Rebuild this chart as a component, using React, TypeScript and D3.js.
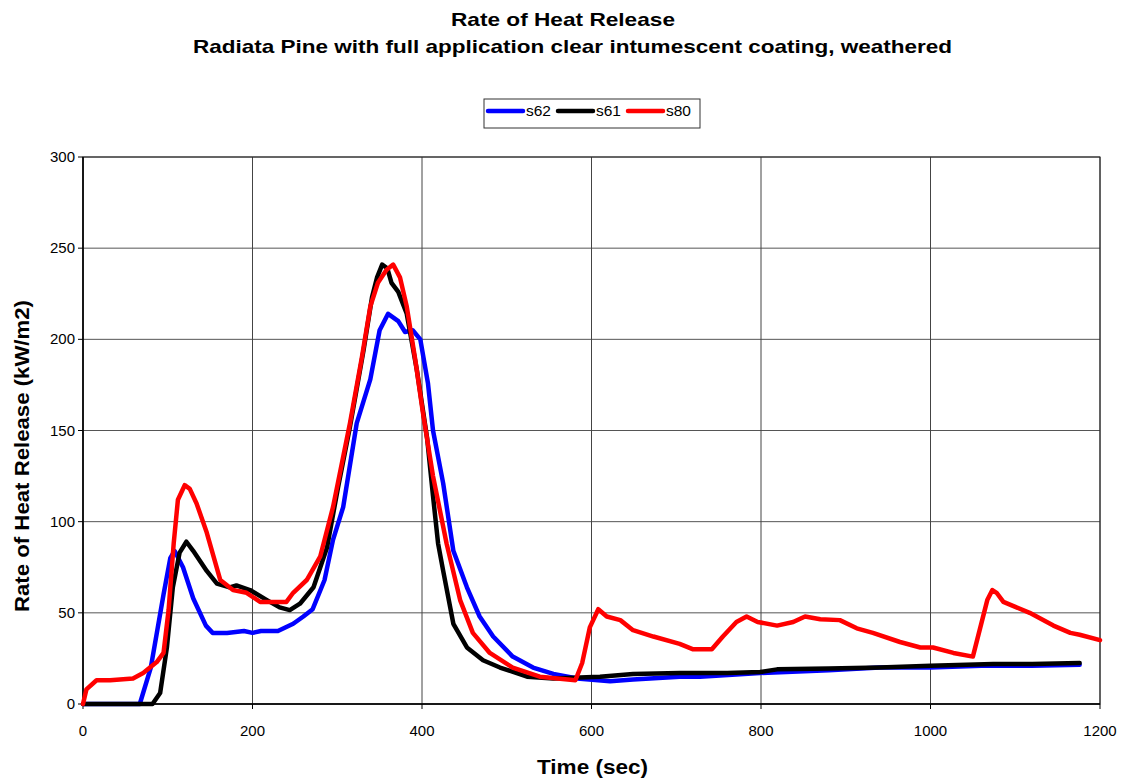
import React from "react";
import * as d3 from "d3";

const xTicks = [0, 200, 400, 600, 800, 1000, 1200];
const yTicks = [0, 50, 100, 150, 200, 250, 300];

const s62T = [0, 67, 80, 95, 103, 108, 118, 130, 145, 153, 170, 190, 200, 210, 230, 248, 260, 271, 285, 295, 307, 323, 339, 350, 360, 372, 380, 389, 398, 407, 413, 425, 437, 453, 468, 484, 507, 531, 555, 583, 622, 649, 704, 728, 799, 880, 940, 1000, 1060, 1120, 1176];
const s62V = [0, 0, 20, 60, 80, 84, 75, 58, 43, 39, 39, 40, 39, 40, 40, 44, 48, 52, 68, 90, 108, 154, 178, 205, 214, 210, 204, 205, 200, 176, 150, 121, 84, 64, 48, 37, 26, 20, 16.5, 14, 12.5, 13.5, 15, 15, 17, 18.5, 20, 20, 21, 21, 21.5];

const s61T = [0, 82, 91, 99, 106, 114, 122, 130, 146, 158, 173, 181, 197, 217, 232, 244, 256, 272, 288, 301, 315, 331, 341, 347, 353, 359, 364, 372, 382, 394, 406, 413, 419, 425, 437, 453, 472, 492, 524, 555, 610, 649, 704, 760, 799, 819, 880, 940, 1000, 1074, 1120, 1176];
const s61V = [0, 0, 6, 31, 64, 83, 89, 84, 73, 66, 64, 65, 62.5, 57, 53, 51.5, 55, 64, 86, 119, 152, 194, 223, 234, 241, 239, 231, 226, 214, 183, 146, 114, 88, 73, 44, 31, 24, 20, 15, 14, 15, 16.5, 17, 17, 17.5, 19, 19.5, 20, 21, 22, 22, 22.5];

const s80T = [0, 4, 16, 32, 59, 71, 87, 95, 101, 107, 112, 120, 126, 134, 146, 154, 162, 177, 193, 209, 240, 248, 264, 280, 295, 315, 329, 339, 348, 358, 366, 374, 382, 392, 401, 413, 429, 445, 460, 480, 507, 539, 581, 589, 598, 608, 618, 634, 649, 673, 704, 720, 742, 755, 771, 783, 796, 819, 838, 852, 870, 893, 913, 932, 964, 988, 1003, 1027, 1050, 1067, 1073, 1078, 1086, 1117, 1145, 1165, 1176, 1200];
const s80V = [0, 8, 13, 13, 14, 17, 23, 28, 51.5, 88, 112, 120, 118, 110, 94, 81, 68, 62.5, 61, 56, 56, 61, 68, 81, 108, 154, 190, 218, 231, 238, 241, 234, 218, 189, 160, 125, 88, 57, 39, 28, 20, 15, 13, 22.5, 42, 52, 48, 46, 40.5, 37, 33, 30, 30, 37, 45, 48, 45, 43, 45, 48, 46.5, 46, 41.5, 39, 34, 31, 31, 28, 26, 57, 62.5, 61, 56, 50, 43, 39, 38, 35];

const seriesNames = ["s62", "s61", "s80"];
const seriesColors = ["#0000ff", "#000000", "#ff0000"];

export default function App() {
  const W = 1126, H = 783;
  const left = 83, right = 1100, top = 157, bottom = 704;
  const x = d3.scaleLinear().domain([0, 1200]).range([left, right]);
  const y = d3.scaleLinear().domain([0, 300]).range([bottom, top]);
  const line = d3.line<[number, number]>().x(d => x(d[0])).y(d => y(d[1]));
  const data = [
    s62T.map((t, i) => [t, s62V[i]] as [number, number]),
    s61T.map((t, i) => [t, s61V[i]] as [number, number]),
    s80T.map((t, i) => [t, s80V[i]] as [number, number]),
  ];
  const font = "Liberation Sans, Arial, sans-serif";
  const legX = [488, 558, 628];
  return (
    <svg width={W} height={H} style={{ position: "absolute", left: 0, top: 0, background: "#fff" }} fontFamily={font}>
      <text x={451} y={25.5} fontSize={18.5} fontWeight="bold" textLength={224} lengthAdjust="spacingAndGlyphs">Rate of Heat Release</text>
      <text x={193} y={53} fontSize={18.5} fontWeight="bold" textLength={759} lengthAdjust="spacingAndGlyphs">Radiata Pine with full application clear intumescent coating, weathered</text>
      {/* grid */}
      {yTicks.map(t => (
        <line key={"gy" + t} x1={left} x2={right} y1={y(t)} y2={y(t)} stroke="#555" strokeWidth={1} />
      ))}
      {xTicks.map(t => (
        <line key={"gx" + t} x1={x(t)} x2={x(t)} y1={top} y2={bottom} stroke="#444" strokeWidth={1} />
      ))}
      <rect x={left} y={top} width={right - left} height={bottom - top} fill="none" stroke="#222" strokeWidth={1} />
      {/* axes */}
      <line x1={left} x2={left} y1={top} y2={bottom} stroke="#000" strokeWidth={1.5} />
      <line x1={left} x2={right} y1={bottom} y2={bottom} stroke="#000" strokeWidth={1.5} />
      {yTicks.map(t => (
        <g key={"ty" + t}>
          <line x1={left - 5} x2={left} y1={y(t)} y2={y(t)} stroke="#000" />
          <text x={75} y={y(t) + 5} textAnchor="end" fontSize={15}>{t}</text>
        </g>
      ))}
      {xTicks.map(t => (
        <g key={"tx" + t}>
          <line x1={x(t)} x2={x(t)} y1={bottom} y2={bottom + 5} stroke="#000" />
          <text x={x(t)} y={bottom + 32} textAnchor="middle" fontSize={15}>{t}</text>
        </g>
      ))}
      <text x={537} y={773.5} fontSize={21} fontWeight="bold" textLength={111} lengthAdjust="spacingAndGlyphs">Time (sec)</text>
      <text transform={`translate(29,612) rotate(-90)`} fontSize={21} fontWeight="bold" textLength={312} lengthAdjust="spacingAndGlyphs">Rate of Heat Release (kW/m2)</text>
      {/* series */}
      {data.map((d, i) => (
        <path key={seriesNames[i]} d={line(d) || ""} fill="none" stroke={seriesColors[i]} strokeWidth={4.5} strokeLinejoin="round" strokeLinecap="round" />
      ))}
      {/* legend */}
      <rect x={484} y={99} width={216} height={29} fill="#fff" stroke="#333" strokeWidth={1} />
      {seriesNames.map((n, i) => (
        <g key={"leg" + n}>
          <line x1={legX[i]} x2={legX[i] + 35} y1={111} y2={111} stroke={seriesColors[i]} strokeWidth={4.5} strokeLinecap="round" />
          <text x={legX[i] + 38} y={116} fontSize={15.5}>{n}</text>
        </g>
      ))}
    </svg>
  );
}
